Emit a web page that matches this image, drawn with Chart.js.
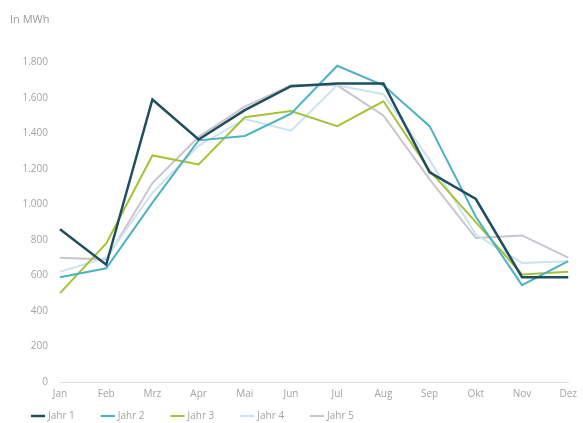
<!DOCTYPE html>
<html lang="de">
<head>
<meta charset="utf-8">
<title>Verbrauch in MWh</title>
<script src="https://cdn.jsdelivr.net/npm/chart.js@4/dist/chart.umd.min.js"></script>
<style>
  html, body { margin: 0; padding: 0; background: #ffffff; }
  #wrap { position: relative; width: 583px; height: 423px; }
</style>
</head>
<body>
<div id="wrap"><canvas id="chart" width="583" height="423"></canvas></div>
<script>
// Monatliche Verbrauchswerte (MWh) je Jahr
const months = ['Jan', 'Feb', 'Mrz', 'Apr', 'Mai', 'Jun', 'Jul', 'Aug', 'Sep', 'Okt', 'Nov', 'Dez'];
const seriesNames = ['Jahr 1', 'Jahr 2', 'Jahr 3', 'Jahr 4', 'Jahr 5'];
const jahr1 = [860, 660, 1590, 1365, 1530, 1665, 1680, 1680, 1180, 1030, 590, 590];
const jahr2 = [590, 640, 1010, 1360, 1385, 1510, 1780, 1670, 1440, 930, 545, 680];
const jahr3 = [500, 780, 1275, 1225, 1490, 1525, 1440, 1580, 1190, 900, 605, 620];
const jahr4 = [620, 700, 1065, 1330, 1480, 1415, 1670, 1620, 1250, 830, 670, 680];
const jahr5 = [700, 690, 1120, 1380, 1550, 1670, 1670, 1500, 1140, 810, 825, 700];
const yTicks = [0, 200, 400, 600, 800, 1000, 1200, 1400, 1600, 1800];

const colors = ['#1f4f5e', '#4db2c2', '#a6c23a', '#cde3ec', '#cbc3d2'];
const widths = [2.5, 2, 2, 2, 2];
const values = [jahr1, jahr2, jahr3, jahr4, jahr5];

const labelColor = '#a3a3a3';
const fontFamily = "'Open Sans', 'Noto Sans', sans-serif";

// Legende näher an die Monatsbeschriftung rücken (nur die Oberkante anheben)
// und die Einheitenzeile etwas einrücken
const boxTweaks = {
  id: 'boxTweaks',
  afterLayout(chart) {
    const lg = chart.legend;
    if (lg) lg.top -= 21;
    const tb = chart.titleBlock;
    if (tb) { tb.left += 5; tb.right += 5; }
  }
};

new Chart(document.getElementById('chart'), {
  type: 'line',
  data: {
    labels: months,
    datasets: seriesNames.map((name, i) => ({
      label: name,
      data: values[i],
      borderColor: colors[i],
      backgroundColor: colors[i],
      borderWidth: widths[i],
      pointRadius: 0,
      pointHoverRadius: 0,
      tension: 0,
      fill: false
    }))
  },
  plugins: [boxTweaks],
  options: {
    responsive: false,
    animation: false,
    layout: { padding: { left: 5, right: 13, top: 9, bottom: 0 } },
    plugins: {
      title: {
        display: true,
        text: 'In MWh',
        align: 'start',
        color: '#9a9a9a',
        font: { family: fontFamily, size: 11, weight: 'normal' },
        padding: { top: 4, bottom: 36 }
      },
      legend: {
        position: 'bottom',
        align: 'start',
        maxHeight: 19,
        labels: {
          usePointStyle: true,
          pointStyle: 'line',
          boxWidth: 12,
          padding: 28,
          color: labelColor,
          font: { family: fontFamily, size: 10 }
        }
      },
      tooltip: { enabled: false }
    },
    scales: {
      x: {
        offset: false,
        afterFit: (axis) => { axis.height = 22; },
        grid: { display: false, drawTicks: false },
        border: { display: true, color: '#dedede', width: 1 },
        ticks: {
          color: labelColor,
          font: { family: fontFamily, size: 10 },
          padding: 6,
          maxRotation: 0,
          autoSkip: false
        }
      },
      y: {
        min: yTicks[0],
        max: yTicks[yTicks.length - 1],
        afterBuildTicks: (axis) => { axis.ticks = yTicks.map(v => ({ value: v })); },
        afterFit: (axis) => { axis.width = 55; },
        grid: { display: false, drawTicks: false },
        border: { display: false },
        ticks: {
          color: labelColor,
          font: { family: fontFamily, size: 10 },
          padding: 12,
          callback: (v) => Number(v).toLocaleString('de-DE')
        }
      }
    }
  }
});
</script>
</body>
</html>
